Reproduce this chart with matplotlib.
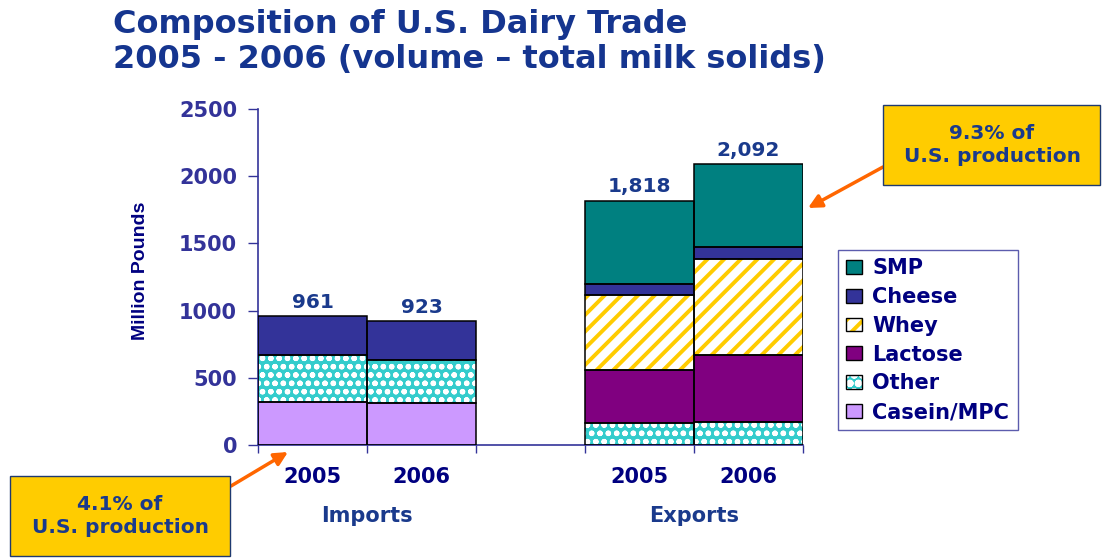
import numpy as np
import matplotlib
matplotlib.use("Agg")
import matplotlib.pyplot as plt
from matplotlib.patches import Patch, Rectangle
from matplotlib.transforms import blended_transform_factory

plt.rcParams['font.family'] = ['DejaVu Sans']

# slots 0,1 = imports, 3,4 = exports (slot 2 left empty as a gap)
positions = [0, 1, 3, 4]
years = ['2005', '2006', '2005', '2006']
groups = ['Imports', 'Exports']
group_centers = [0.5, 3.5]

# million pounds, stacked bottom to top
casein = [318, 310, 0, 0]
other = [350, 325, 166, 168]
lactose = [0, 0, 390, 502]
whey = [0, 0, 562, 716]
cheese = [293, 288, 78, 90]
smp = [0, 0, 622, 616]

notes = ['4.1% of\nU.S. production', '9.3% of\nU.S. production']

NAVY = '#000080'
BLUE = '#1a3a8c'
AXIS = '#333399'

# name, values, face, hatch, hatch colour, hatch width
layers = [
    ('Casein/MPC', casein, '#cc99ff', None, None, 0),
    ('Other', other, '#33cccc', 'oo', 'white', 1.6),
    ('Lactose', lactose, '#800080', None, None, 0),
    ('Whey', whey, 'white', '//', '#ffcc00', 2.8),
    ('Cheese', cheese, '#333399', None, None, 0),
    ('SMP', smp, '#008080', None, None, 0),
]

fig = plt.figure(figsize=(11.03, 5.60), dpi=100)
W, H = 1103, 560
ax = fig.add_axes([258 / W, 1 - 445 / H, 545 / W, 336 / H])

bottom = np.zeros(len(positions))
handles = {}
for name, vals, face, hatch, hcol, hlw in layers:
    vals = np.array(vals, dtype=float)
    keep = vals > 0
    x = np.array(positions)[keep]
    if hatch:
        plt.rcParams['hatch.linewidth'] = hlw
        ax.bar(x, vals[keep], width=1.0, bottom=bottom[keep], color=face,
               hatch=hatch, edgecolor=hcol, linewidth=0, zorder=2)
        p1 = Patch(facecolor=face, hatch=hatch, edgecolor=hcol, linewidth=0)
    else:
        ax.bar(x, vals[keep], width=1.0, bottom=bottom[keep], color=face,
               linewidth=0, zorder=2)
        p1 = Patch(facecolor=face, linewidth=0)
    ax.bar(x, vals[keep], width=1.0, bottom=bottom[keep], fill=False,
           edgecolor='black', linewidth=1.1, zorder=3)
    p2 = Patch(fill=False, edgecolor='black', linewidth=1.0)
    handles[name] = (p1, p2)
    bottom += vals

# totals above each bar
for x, total in zip(positions, bottom):
    ax.annotate(f'{int(total):,}', (x, total), xytext=(0, 3),
                textcoords='offset points', ha='center', va='bottom',
                fontsize=14.5, fontweight='bold', color=BLUE)

ax.set_xlim(-0.5, 4.5)
ax.set_ylim(0, 2500)
ax.set_yticks(np.arange(0, 2501, 500))
ax.tick_params(axis='y', colors=AXIS, labelcolor=AXIS, length=7, width=1,
               pad=8, labelsize=15)
for lbl in ax.get_yticklabels():
    lbl.set_fontweight('bold')

ax.set_xticks(positions)
ax.set_xticklabels(years, fontsize=15, fontweight='bold', color=NAVY)
ax.set_xticks(np.arange(-0.5, 4.6, 1.0), minor=True)
ax.tick_params(axis='x', which='major', length=0, pad=16)
ax.tick_params(axis='x', which='minor', length=6, width=1, color=AXIS)

for side in ['top', 'right']:
    ax.spines[side].set_visible(False)
for side in ['left', 'bottom']:
    ax.spines[side].set_color(AXIS)
    ax.spines[side].set_linewidth(1.2)

trans = blended_transform_factory(ax.transData, fig.transFigure)
for c, g in zip(group_centers, groups):
    ax.text(c, 1 - 516 / H, g, transform=trans, ha='center', va='center',
            fontsize=15, fontweight='bold', color=BLUE)

fig.text(140 / W, 1 - 271 / H, 'Million Pounds', rotation=90, ha='center',
         va='center', fontsize=14, fontweight='bold', color=NAVY,
         family=['Liberation Sans Narrow', 'Liberation Sans'])

fig.text(113 / W, 1 - 33 / H, 'Composition of U.S. Dairy Trade', ha='left',
         va='baseline', fontsize=23, fontweight='bold', color='#15358f')
fig.text(113 / W, 1 - 68 / H, '2005 - 2006 (volume \u2013 total milk solids)',
         ha='left', va='baseline', fontsize=23, fontweight='bold',
         color='#15358f')

order = ['SMP', 'Cheese', 'Whey', 'Lactose', 'Other', 'Casein/MPC']
leg = fig.legend([handles[n] for n in order], order,
                 loc='upper left', bbox_to_anchor=(838 / W, 1 - 250 / H),
                 frameon=True, fancybox=False, fontsize=15,
                 handlelength=0.75, handleheight=0.65, handletextpad=0.5,
                 labelspacing=0.42, borderpad=0.4, borderaxespad=0)
leg.get_frame().set_edgecolor(AXIS)
leg.get_frame().set_linewidth(1.0)
for t in leg.get_texts():
    t.set_fontweight('bold')
    t.set_color(NAVY)

# callout boxes with arrows
arrow = dict(arrowstyle='-|>,head_length=0.8,head_width=0.4',
             color='#ff6600', linewidth=2.5, shrinkA=0, shrinkB=0)

# lower-left box
fig.patches.append(Rectangle((10 / W, 1 - 556 / H), 220 / W, 80 / H,
                             transform=fig.transFigure, facecolor='#ffcc00',
                             edgecolor='#1f3a70', linewidth=1))
fig.text(120 / W, 1 - 516 / H, notes[0], ha='center', va='center',
         fontsize=14.5, fontweight='bold', color=BLUE, linespacing=1.25)
ax.annotate('', xy=(288 / W, 1 - 452 / H), xycoords='figure fraction',
            xytext=(231 / W, 1 - 486 / H), textcoords='figure fraction',
            arrowprops=arrow, annotation_clip=False)

# upper-right box
fig.patches.append(Rectangle((883 / W, 1 - 185 / H), 217 / W, 80 / H,
                             transform=fig.transFigure, facecolor='#ffcc00',
                             edgecolor='#1f3a70', linewidth=1))
fig.text(992 / W, 1 - 145 / H, notes[1], ha='center', va='center',
         fontsize=14.5, fontweight='bold', color=BLUE, linespacing=1.25)
ax.annotate('', xy=(808 / W, 1 - 208 / H), xycoords='figure fraction',
            xytext=(883 / W, 1 - 167 / H), textcoords='figure fraction',
            arrowprops=arrow, annotation_clip=False)

fig.savefig('out.png', dpi=100)
